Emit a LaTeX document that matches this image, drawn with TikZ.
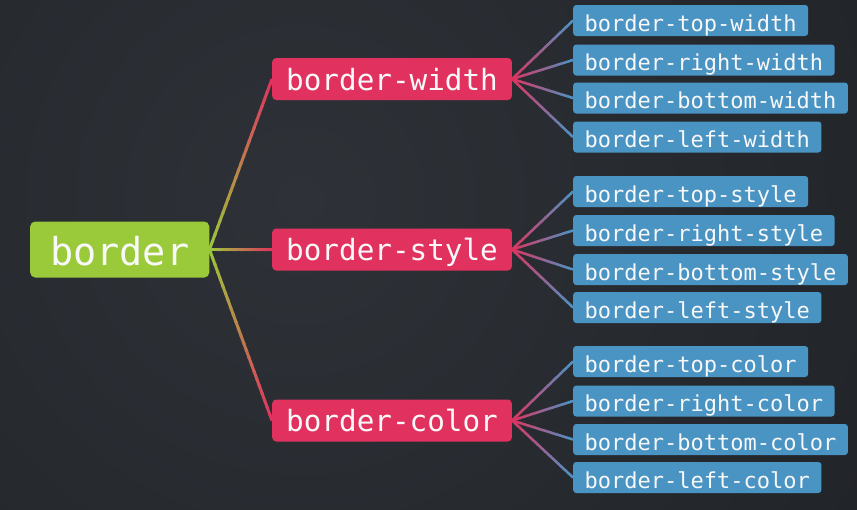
\documentclass[tikz,border=0pt]{standalone}
\usepackage{fontspec}
\newfontfamily\monofont{DejaVu Sans Mono}
\usetikzlibrary{calc}
\definecolor{bgin}{RGB}{46,50,56}
\definecolor{bgout}{RGB}{24,26,29}
\definecolor{rootgreen}{RGB}{154,202,58}
\definecolor{crim}{RGB}{225,50,95}
\definecolor{leafblue}{RGB}{74,148,196}
\definecolor{txt}{RGB}{248,248,248}
\pgfdeclarelayer{bglayer}
\pgfdeclarelayer{linklayer}
\pgfsetlayers{bglayer,linklayer,main}
\newcommand\gradlink[5]{%
  \foreach \k in {0,...,23}{%
    \pgfmathsetmacro\fa{\k/24}%
    \pgfmathsetmacro\fb{min(1,(\k+1.3)/24)}%
    \pgfmathtruncatemacro\pct{100-(\k+0.5)*100/24}%
    \draw[line width=#5, color=#3!\pct!#4] ($(#1)!\fa!(#2)$) -- ($(#1)!\fb!(#2)$);
  }}
\tikzset{
  rootbox/.style={anchor=west, fill=rootgreen, rounded corners=5pt, text=txt,
    font=\monofont\fontsize{38.5}{44}\selectfont, inner xsep=20pt, inner ysep=0pt,
    minimum height=56pt, text height=31pt, text depth=0pt},
  midbox/.style={anchor=west, fill=crim, rounded corners=4pt, text=txt,
    font=\monofont\fontsize{29.3}{34}\selectfont, inner xsep=14pt, inner ysep=0pt,
    minimum height=42pt, text height=22.4pt, text depth=0pt},
  leafbox/.style={anchor=west, fill=leafblue, rounded corners=3pt, text=txt,
    font=\monofont\fontsize{22}{26}\selectfont, inner xsep=11.5pt, inner ysep=0pt,
    minimum height=31pt, text height=21pt, text depth=0pt},
}
\begin{document}
\begin{tikzpicture}[x=1pt,y=-1pt]
\useasboundingbox (0,0) rectangle (857,509);
\begin{pgfonlayer}{bglayer}
  \fill[bgout] (0,0) rectangle (857,509);
  \begin{scope}
    \clip (0,0) rectangle (857,509);
    \shade[inner color=bgin, outer color=bgout] (300,200) circle (1100);
  \end{scope}
\end{pgfonlayer}

\node[rootbox] (root) at (30,249.5) {border};

\node[midbox] (w) at (272,79) {border-width};
\node[midbox] (s) at (272,249.5) {border-style};
\node[midbox] (c) at (272,420.5) {border-color};

\node[leafbox] (wt) at (573,20.5) {border-top-width};
\node[leafbox] (wr) at (573,60) {border-right-width};
\node[leafbox] (wb) at (573,98) {border-bottom-width};
\node[leafbox] (wl) at (573,137) {border-left-width};

\node[leafbox] (st) at (573,191.5) {border-top-style};
\node[leafbox] (sr) at (573,230.5) {border-right-style};
\node[leafbox] (sb) at (573,269.5) {border-bottom-style};
\node[leafbox] (sl) at (573,307.5) {border-left-style};

\node[leafbox] (ct) at (573,361.5) {border-top-color};
\node[leafbox] (cr) at (573,401) {border-right-color};
\node[leafbox] (cb) at (573,439.5) {border-bottom-color};
\node[leafbox] (cl) at (573,477.5) {border-left-color};

\begin{pgfonlayer}{linklayer}
  \foreach \m in {w,s,c}{
    \gradlink{root.east}{\m.west}{rootgreen}{crim}{3pt}
  }
  \foreach \m in {w,s,c}{
    \foreach \l in {t,r,b,l}{
      \gradlink{\m.east}{\m\l.west}{crim}{leafblue}{2.5pt}
    }
  }
\end{pgfonlayer}
\end{tikzpicture}
\end{document}
